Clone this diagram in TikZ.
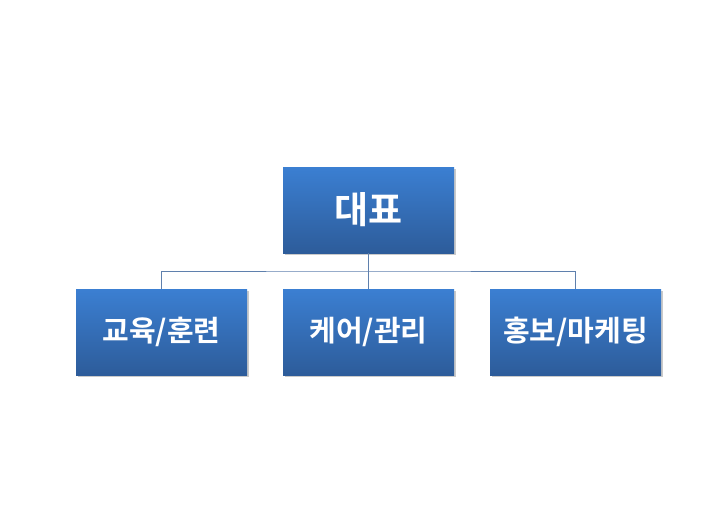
\documentclass[tikz,border=0pt]{standalone}
\usepackage{fontspec}
\newfontfamily\krfont{Noto Sans CJK KR}[BoldFont={* Bold}]
\usetikzlibrary{shadows}
\definecolor{boxtop}{HTML}{3B7FD2}
\definecolor{boxbot}{HTML}{2D5C9A}
\definecolor{linkc}{HTML}{5F80AD}
\tikzset{
  orgbox/.style={rectangle, minimum width=171pt, minimum height=86pt, inner sep=0pt,
    top color=boxtop, bottom color=boxbot, draw=none,
    drop shadow={shadow xshift=1.5pt, shadow yshift=-1.5pt, opacity=0.35, fill=black!60},
    text=white, font=\krfont\bfseries},
  link/.style={draw=linkc, line width=1pt}
}
\begin{document}
\begin{tikzpicture}[x=1pt,y=-1pt]
\useasboundingbox (0,0) rectangle (720,524);
\node[orgbox, font=\krfont\bfseries\fontsize{37}{42}\selectfont] (top) at (368.5,210) {대표};
\node[orgbox, font=\krfont\bfseries\fontsize{29}{34}\selectfont] (b1) at (161.5,332) {교육/훈련};
\node[orgbox, font=\krfont\bfseries\fontsize{29}{34}\selectfont] (b2) at (368.5,332) {케어/관리};
\node[orgbox, font=\krfont\bfseries\fontsize{29}{34}\selectfont] (b3) at (575.5,332) {홍보/마케팅};
\coordinate (bus) at (368.5,271);
\draw[link] (top.south) -- (bus);
\draw[link] (b1.north) |- (bus) -| (b3.north);
\draw[link] (bus) -- (b2.north);
\end{tikzpicture}
\end{document}
